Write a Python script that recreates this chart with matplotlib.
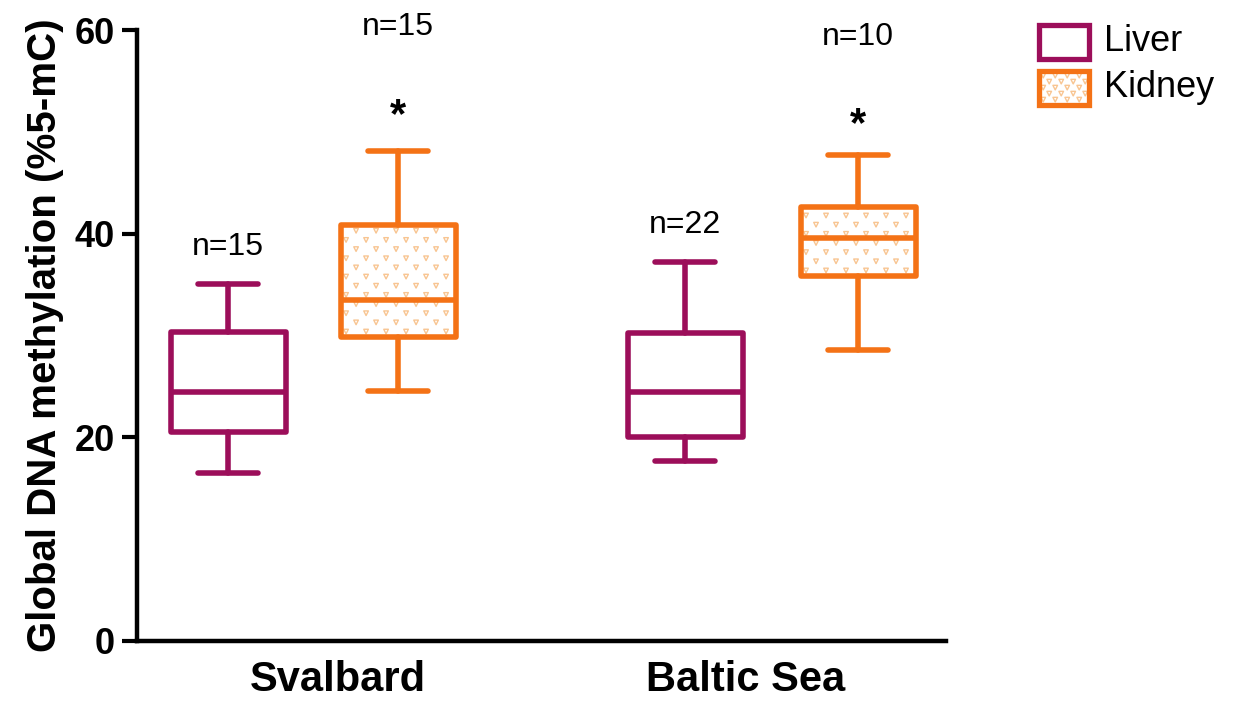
import numpy as np
import matplotlib
matplotlib.use("Agg")
import matplotlib.pyplot as plt
from matplotlib.patches import Rectangle

plt.rcParams['font.family'] = ['Liberation Sans', 'DejaVu Sans']

# five-number summaries (%5-mC): whisker low, Q1, median, Q3, whisker high
sites = ["Svalbard", "Baltic Sea"]
liver_stats = [[16.5, 20.5, 24.5, 30.4, 35.1],
               [17.7, 20.0, 24.5, 30.3, 37.2]]
kidney_stats = [[24.6, 29.9, 33.5, 40.9, 48.1],
                [28.6, 35.9, 39.6, 42.6, 47.7]]
liver_n = [15, 22]
kidney_n = [15, 10]
liver_label_y = [38.7, 40.9]
kidney_label_y = [60.3, 59.3]
star_y = [51.6, 50.7]

LIVER = "#9c0e5a"
KIDNEY = "#f47216"
DOTS = "#f8c592"

liver_pos = [0.91, 5.48]
kidney_pos = [2.61, 7.21]
site_tick = [2.01, 6.09]

def to_bxp(s):
    return dict(whislo=s[0], q1=s[1], med=s[2], q3=s[3], whishi=s[4], fliers=[])

fig = plt.figure(figsize=(12.35, 7.04), dpi=100)
ax = fig.add_axes([0.111, 0.0895, 0.655, 0.8675])

def draw(stats, pos, color, fill):
    lw = 4.0
    props = dict(color=color, linewidth=lw, solid_capstyle='round', solid_joinstyle='round')
    out = ax.bxp([to_bxp(s) for s in stats], positions=pos, widths=1.15, capwidths=0.6,
                 patch_artist=True, showfliers=False,
                 boxprops=dict(facecolor='none', edgecolor=color, linewidth=lw, joinstyle='round'),
                 medianprops=dict(color=color, linewidth=lw),
                 whiskerprops=props, capprops=props, manage_ticks=False)
    if fill:
        # v-shaped dot texture inside each box
        for box, s, p in zip(out['boxes'], stats, pos):
            xs, ys = [], []
            for j, yy in enumerate(np.arange(s[1] + 0.5, s[3], 0.9)):
                off = 0.1 if j % 2 else 0.0
                for xx in np.arange(p - 0.52 + off, p + 0.56, 0.2):
                    xs.append(xx); ys.append(yy)
            sc = ax.scatter(xs, ys, marker='v', s=11, facecolor='none', edgecolor=DOTS,
                            linewidths=1.0, zorder=1.5)
            sc.set_clip_path(box)
            box.set_zorder(3)
    return out

draw(liver_stats, liver_pos, LIVER, False)
draw(kidney_stats, kidney_pos, KIDNEY, True)

for p, n, y in zip(liver_pos, liver_n, liver_label_y):
    ax.text(p, y, f"n={n}", ha='center', va='center', fontsize=23)
for p, n, y in zip(kidney_pos, kidney_n, kidney_label_y):
    ax.text(p, y, f"n={n}", ha='center', va='center', fontsize=23, clip_on=False)
for p, y in zip(kidney_pos, star_y):
    ax.text(p, y, "*", ha='center', va='center', fontsize=30, fontweight='bold')

ax.set_xlim(0, 8.09)
ax.set_ylim(0, 60)
ax.set_yticks([0, 20, 40, 60])
ax.set_xticks(site_tick)
ax.set_xticklabels(sites, fontsize=30, fontweight='bold')
ax.tick_params(axis='x', length=0, pad=14)
ax.tick_params(axis='y', length=11, width=3, labelsize=26, pad=5)
for lab in ax.get_yticklabels():
    lab.set_fontweight('bold')
ax.set_ylabel("Global DNA methylation (%5-mC)", fontsize=29, fontweight='bold', labelpad=8)
for side in ['top', 'right']:
    ax.spines[side].set_visible(False)
for side in ['left', 'bottom']:
    ax.spines[side].set_linewidth(3.2)

# legend drawn in its own axes
lax = fig.add_axes([0.835, 0.84, 0.17, 0.135])
lax.set_xlim(0, 210); lax.set_ylim(0, 95); lax.axis('off')
lax.add_patch(Rectangle((8, 54), 50, 34, facecolor='none', edgecolor=LIVER, linewidth=3.8))
kid = Rectangle((8, 8), 50, 34, facecolor='none', edgecolor=KIDNEY, linewidth=3.8, zorder=3)
lax.add_patch(kid)
lxs, lys = [], []
for j, yy in enumerate(np.arange(13, 42, 6)):
    off = 6 if j % 2 else 0
    for xx in np.arange(12 + off, 58, 12):
        lxs.append(xx); lys.append(yy)
lsc = lax.scatter(lxs, lys, marker='v', s=11, facecolor='none', edgecolor=DOTS, linewidths=1.0, zorder=2)
lsc.set_clip_path(kid)
lax.text(73, 71, "Liver", fontsize=26, va='center')
lax.text(73, 25, "Kidney", fontsize=26, va='center')

fig.savefig("out.png", dpi=100)
